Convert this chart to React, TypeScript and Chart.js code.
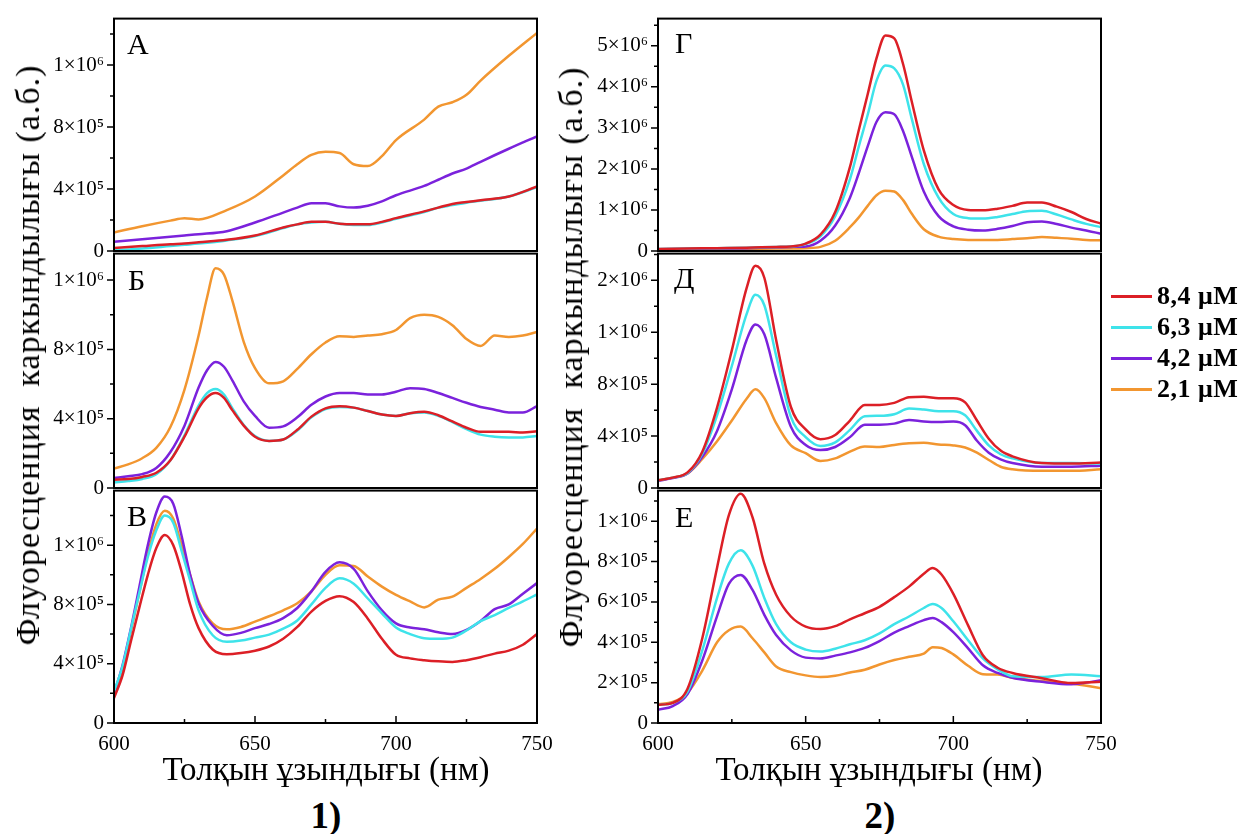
import React, { useEffect, useRef } from 'react';
import { Chart, registerables } from 'chart.js';

Chart.register(...registerables);

const FONT = '"Liberation Serif", "Times New Roman", serif';

const SERIES_LABELS = ['8,4 μM', '6,3 μM', '4,2 μM', '2,1 μM'];
const SERIES_COLORS = ['#dc1f26', '#3ee3ea', '#7b22dc', '#f29630'];

const X_MAJOR = [600, 650, 700, 750];
const X_MINOR = [625, 675, 725];
const X_TICK_LABELS = ['600', '650', '700', '750'];

// ---------- Panel А ----------
const WL_A = [600, 610, 620, 625, 630, 640, 650, 660, 665, 670, 675, 680, 685, 690, 695, 700, 710, 715, 720, 725, 730, 740, 750];
const A_84 = [20000, 32000, 44000, 48000, 56000, 72000, 100000, 152000, 172000, 188000, 188000, 176000, 172000, 172000, 188000, 212000, 256000, 280000, 304000, 316000, 328000, 352000, 416000];
const A_63 = [4000, 16000, 32000, 40000, 48000, 68000, 96000, 148000, 172000, 184000, 188000, 176000, 168000, 168000, 184000, 208000, 252000, 280000, 296000, 312000, 324000, 352000, 412000];
const A_42 = [60000, 76000, 92000, 100000, 108000, 128000, 184000, 248000, 280000, 308000, 308000, 288000, 280000, 292000, 320000, 360000, 420000, 460000, 500000, 532000, 576000, 660000, 740000];
const A_21 = [120000, 160000, 196000, 212000, 204000, 264000, 352000, 488000, 560000, 620000, 640000, 632000, 560000, 548000, 612000, 716000, 848000, 932000, 960000, 1008000, 1100000, 1260000, 1408000];

// ---------- Panel Б ----------
const WL_B = [600, 605, 610, 615, 620, 625, 630, 633, 636, 639, 642, 646, 650, 655, 660, 665, 670, 675, 680, 685, 690, 695, 700, 705, 710, 715, 720, 725, 730, 735, 740, 745, 750];
const B_84 = [48000, 52000, 64000, 88000, 160000, 296000, 460000, 524000, 548000, 520000, 448000, 360000, 296000, 272000, 280000, 336000, 412000, 460000, 472000, 464000, 444000, 424000, 416000, 432000, 440000, 420000, 384000, 348000, 324000, 324000, 324000, 320000, 328000];
const B_63 = [32000, 40000, 52000, 80000, 160000, 304000, 476000, 548000, 572000, 540000, 460000, 364000, 300000, 272000, 280000, 332000, 408000, 456000, 468000, 464000, 444000, 424000, 416000, 432000, 436000, 416000, 380000, 340000, 308000, 296000, 292000, 292000, 300000];
const B_42 = [58000, 68000, 80000, 116000, 208000, 360000, 580000, 680000, 728000, 700000, 620000, 500000, 416000, 348000, 356000, 408000, 480000, 528000, 548000, 548000, 540000, 540000, 556000, 576000, 572000, 548000, 520000, 492000, 468000, 452000, 436000, 436000, 472000];
const B_21 = [112000, 136000, 172000, 232000, 352000, 568000, 880000, 1100000, 1268000, 1232000, 1080000, 844000, 692000, 604000, 616000, 688000, 772000, 840000, 876000, 872000, 880000, 888000, 912000, 980000, 1000000, 988000, 940000, 860000, 820000, 880000, 872000, 880000, 900000];

// ---------- Panel В ----------
const WL_C = [600, 603, 606, 609, 612, 615, 618, 621, 624, 627, 630, 635, 640, 645, 650, 655, 660, 665, 670, 675, 680, 685, 690, 695, 700, 705, 710, 715, 720, 725, 730, 735, 740, 745, 750];
const C_84 = [168000, 320000, 552000, 780000, 1000000, 1180000, 1268000, 1200000, 1020000, 800000, 640000, 496000, 464000, 472000, 488000, 516000, 568000, 648000, 752000, 824000, 856000, 816000, 704000, 568000, 460000, 436000, 424000, 416000, 412000, 424000, 444000, 468000, 488000, 528000, 600000];
const C_63 = [212000, 380000, 632000, 880000, 1120000, 1300000, 1400000, 1352000, 1160000, 960000, 760000, 592000, 548000, 556000, 576000, 596000, 636000, 692000, 800000, 912000, 976000, 940000, 840000, 740000, 644000, 600000, 572000, 568000, 576000, 624000, 688000, 728000, 776000, 820000, 868000];
const C_42 = [200000, 388000, 640000, 920000, 1200000, 1420000, 1528000, 1480000, 1260000, 1000000, 808000, 656000, 592000, 608000, 640000, 668000, 708000, 776000, 888000, 1020000, 1084000, 1040000, 888000, 760000, 672000, 644000, 632000, 612000, 600000, 628000, 688000, 768000, 800000, 872000, 944000];
const C_21 = [188000, 360000, 620000, 880000, 1140000, 1340000, 1432000, 1380000, 1200000, 1000000, 820000, 672000, 632000, 648000, 684000, 720000, 760000, 808000, 888000, 1000000, 1064000, 1060000, 988000, 920000, 864000, 820000, 780000, 832000, 852000, 912000, 972000, 1040000, 1120000, 1208000, 1312000];

// ---------- Panel Г ----------
const WL_D = [600, 610, 620, 630, 640, 645, 650, 655, 660, 665, 668, 671, 674, 677, 680, 683, 686, 690, 695, 700, 705, 710, 715, 720, 725, 730, 735, 740, 745, 750];
const D_84 = [50000, 60000, 70000, 80000, 100000, 110000, 180000, 400000, 950000, 2050000, 2950000, 3820000, 4700000, 5250000, 5180000, 4550000, 3620000, 2450000, 1500000, 1120000, 1000000, 990000, 1030000, 1100000, 1180000, 1180000, 1080000, 950000, 780000, 670000];
const D_63 = [50000, 60000, 70000, 80000, 100000, 110000, 170000, 360000, 850000, 1750000, 2550000, 3320000, 4150000, 4520000, 4450000, 4050000, 3200000, 2120000, 1300000, 900000, 800000, 790000, 830000, 900000, 970000, 980000, 890000, 770000, 660000, 580000];
const D_42 = [40000, 50000, 60000, 70000, 90000, 100000, 110000, 250000, 620000, 1300000, 1900000, 2550000, 3150000, 3380000, 3330000, 2920000, 2280000, 1450000, 850000, 600000, 520000, 500000, 540000, 610000, 700000, 720000, 660000, 570000, 500000, 420000];
const D_21 = [40000, 40000, 50000, 50000, 60000, 60000, 70000, 100000, 250000, 580000, 820000, 1100000, 1360000, 1470000, 1450000, 1240000, 900000, 530000, 350000, 290000, 270000, 270000, 270000, 290000, 310000, 340000, 320000, 300000, 270000, 260000];

// ---------- Panel Д ----------
const WL_E = [600, 605, 610, 615, 620, 625, 630, 633, 636, 640, 645, 650, 655, 660, 665, 670, 675, 680, 685, 690, 695, 700, 704, 708, 712, 716, 720, 730, 740, 750];
const E_84 = [60000, 80000, 120000, 280000, 620000, 1060000, 1540000, 1712000, 1620000, 1140000, 624000, 452000, 376000, 408000, 520000, 640000, 640000, 656000, 700000, 704000, 692000, 692000, 660000, 520000, 380000, 288000, 244000, 192000, 188000, 196000];
const E_63 = [60000, 80000, 116000, 264000, 560000, 940000, 1340000, 1488000, 1408000, 1020000, 548000, 392000, 324000, 352000, 448000, 552000, 556000, 568000, 612000, 604000, 592000, 592000, 560000, 440000, 328000, 260000, 228000, 192000, 192000, 188000];
const E_42 = [56000, 76000, 112000, 240000, 440000, 760000, 1140000, 1260000, 1184000, 848000, 472000, 332000, 292000, 316000, 392000, 488000, 488000, 496000, 524000, 512000, 508000, 512000, 484000, 364000, 272000, 220000, 192000, 164000, 164000, 172000];
const E_21 = [60000, 80000, 112000, 224000, 360000, 520000, 688000, 760000, 692000, 500000, 328000, 268000, 208000, 228000, 280000, 320000, 316000, 332000, 344000, 348000, 336000, 328000, 312000, 272000, 216000, 164000, 144000, 132000, 132000, 144000];

// ---------- Panel Е ----------
const WL_F = [600, 605, 610, 615, 620, 624, 628, 632, 636, 640, 645, 650, 655, 660, 665, 670, 675, 680, 685, 690, 693, 696, 700, 705, 710, 715, 720, 730, 740, 750];
const F_84 = [90000, 100000, 170000, 420000, 770000, 1030000, 1136000, 1020000, 790000, 636000, 528000, 478000, 466000, 480000, 514000, 544000, 576000, 624000, 676000, 740000, 768000, 736000, 640000, 484000, 336000, 274000, 248000, 222000, 198000, 204000];
const F_63 = [90000, 100000, 156000, 360000, 620000, 790000, 856000, 780000, 620000, 490000, 400000, 364000, 354000, 368000, 390000, 410000, 444000, 490000, 528000, 570000, 590000, 570000, 504000, 410000, 320000, 266000, 232000, 228000, 240000, 232000];
const F_42 = [66000, 84000, 144000, 310000, 530000, 690000, 734000, 660000, 536000, 436000, 360000, 324000, 320000, 334000, 350000, 372000, 406000, 448000, 480000, 510000, 520000, 500000, 450000, 370000, 286000, 248000, 224000, 204000, 192000, 212000];
const F_21 = [94000, 104000, 150000, 260000, 400000, 460000, 478000, 420000, 350000, 280000, 252000, 236000, 228000, 234000, 250000, 264000, 290000, 312000, 328000, 344000, 376000, 372000, 340000, 284000, 242000, 240000, 224000, 208000, 196000, 172000];

// ---------- Y tick labels ----------
const Y_TICKS_4 = [0, 400000, 800000, 1200000];
const Y_LABELS_4 = ['0', '4×10⁵', '8×10⁵', '1×10⁶'];
const Y_TICKS_G = [0, 1000000, 2000000, 3000000, 4000000, 5000000];
const Y_LABELS_G = ['0', '1×10⁶', '2×10⁶', '3×10⁶', '4×10⁶', '5×10⁶'];
const Y_TICKS_D = [0, 400000, 800000, 1200000, 1600000];
const Y_LABELS_D = ['0', '4×10⁵', '8×10⁵', '1×10⁶', '2×10⁶'];
const Y_TICKS_E = [0, 200000, 400000, 600000, 800000, 1000000];
const Y_LABELS_E = ['0', '2×10⁵', '4×10⁵', '6×10⁵', '8×10⁵', '1×10⁶'];

const framePlugin = {
  id: 'frame',
  afterDatasetsDraw(chart: any, _args: any, opts: any) {
    const { ctx, chartArea: a } = chart;
    const ys = chart.scales.y;
    const xs = chart.scales.x;
    ctx.save();
    ctx.strokeStyle = '#000';
    ctx.lineWidth = 1.5;
    ctx.beginPath();
    const majors: number[] = opts.yTicks;
    for (let v = opts.yMinorStep; v <= ys.max + 1; v += opts.yMinorStep) {
      if (majors.some((m) => Math.abs(m - v) < 1)) continue;
      const py = ys.getPixelForValue(v);
      ctx.moveTo(a.left - 4, py);
      ctx.lineTo(a.left, py);
    }
    majors.forEach((v) => {
      const py = ys.getPixelForValue(v);
      ctx.moveTo(a.left - 7, py);
      ctx.lineTo(a.left, py);
    });
    if (opts.showX) {
      X_MAJOR.forEach((v) => {
        const px = xs.getPixelForValue(v);
        ctx.moveTo(px, a.bottom);
        ctx.lineTo(px, a.bottom - 7);
      });
      X_MINOR.forEach((v) => {
        const px = xs.getPixelForValue(v);
        ctx.moveTo(px, a.bottom);
        ctx.lineTo(px, a.bottom - 4);
      });
    }
    ctx.stroke();
    ctx.lineWidth = 2;
    ctx.strokeRect(a.left, a.top, a.right - a.left, a.bottom - a.top);
    ctx.restore();
  },
};

type PanelProps = {
  rect: [number, number, number, number];
  wl: number[];
  series: number[][];
  yMax: number;
  yTicks: number[];
  yLabels: string[];
  yMinorStep: number;
  showX: boolean;
};

const PADL = 110;
const PADT = 20;
const PADR = 35;
const PADB = 45;

function Panel(p: PanelProps) {
  const ref = useRef<HTMLCanvasElement>(null);
  const [l, t, r, b] = p.rect;
  const XH = p.showX ? 38 : 0;
  const cw = r - l + PADL + PADR;
  const ch = b - t + PADT + PADB;
  useEffect(() => {
    const chart = new Chart(ref.current as HTMLCanvasElement, {
      type: 'line',
      data: {
        datasets: p.series.map((s, i) => ({
          label: SERIES_LABELS[i],
          data: p.wl.map((x, j) => ({ x, y: s[j] })),
          borderColor: SERIES_COLORS[i],
          backgroundColor: SERIES_COLORS[i],
          borderWidth: 2.5,
          pointRadius: 0,
          cubicInterpolationMode: 'monotone',
          fill: false,
        })),
      },
      options: {
        responsive: false,
        animation: false,
        devicePixelRatio: 1,
        events: [],
        layout: { padding: { left: 0, top: PADT, right: PADR, bottom: PADB - XH } },
        plugins: {
          legend: { display: false },
          tooltip: { enabled: false },
          frame: { yTicks: p.yTicks, yMinorStep: p.yMinorStep, showX: p.showX },
        } as any,
        scales: {
          x: {
            type: 'linear',
            min: 600,
            max: 750,
            grid: { display: false, drawTicks: false },
            border: { display: false },
            afterBuildTicks: (s: any) => {
              s.ticks = X_MAJOR.map((v) => ({ value: v }));
            },
            afterFit: (s: any) => {
              s.height = XH;
            },
            ticks: {
              display: p.showX,
              padding: 9,
              color: '#000',
              maxRotation: 0,
              autoSkip: false,
              font: { family: FONT, size: 21 },
              callback: (_v: any, i: number) => X_TICK_LABELS[i],
            },
          },
          y: {
            type: 'linear',
            min: 0,
            max: p.yMax,
            grid: { display: false, drawTicks: false },
            border: { display: false },
            afterBuildTicks: (s: any) => {
              s.ticks = p.yTicks.map((v) => ({ value: v }));
            },
            afterFit: (s: any) => {
              s.width = PADL;
            },
            ticks: {
              padding: 10,
              color: '#000',
              autoSkip: false,
              font: { family: FONT, size: 21 },
              callback: (_v: any, i: number) => p.yLabels[i],
            },
          },
        },
      },
      plugins: [framePlugin],
    } as any);
    return () => chart.destroy();
  }, []);
  return (
    <canvas
      ref={ref}
      width={cw}
      height={ch}
      style={{ position: 'absolute', left: l - PADL, top: t - PADT, width: cw, height: ch }}
    />
  );
}

function Txt(props: { x: number; y: number; size: number; bold?: boolean; center?: boolean; children: React.ReactNode }) {
  const { x, y, size, bold, center, children } = props;
  return (
    <div
      style={{
        position: 'absolute',
        left: x,
        top: y - 0.8375 * size,
        fontFamily: FONT,
        fontSize: size,
        lineHeight: `${size}px`,
        fontWeight: bold ? 'bold' : 'normal',
        whiteSpace: 'nowrap',
        transform: center ? 'translateX(-50%)' : undefined,
        color: '#000',
      }}
    >
      {children}
    </div>
  );
}

function VTitle(props: { cx: number; cy: number; size: number; spacing: number; children: React.ReactNode }) {
  const { cx, cy, size, spacing, children } = props;
  return (
    <div
      style={{
        position: 'absolute',
        left: cx,
        top: cy,
        fontFamily: FONT,
        fontSize: size,
        letterSpacing: spacing,
        lineHeight: `${size}px`,
        whiteSpace: 'pre',
        transform: 'translate(-50%, -50%) rotate(-90deg)',
        color: '#000',
      }}
    >
      {children}
    </div>
  );
}

const LEFT_X: [number, number] = [114, 537];
const RIGHT_X: [number, number] = [658, 1101];
const ROWS: [number, number][] = [
  [16, 251],
  [251, 488],
  [488, 723],
];

export default function App() {
  const Y_TITLE = 'Флуоресценция  каркындылығы (а.б.)';
  const X_TITLE = 'Толқын ұзындығы (нм)';
  return (
    <div style={{ position: 'absolute', left: 0, top: 0, width: 1249, height: 834, background: '#fff', overflow: 'hidden' }}>
      <Panel rect={[LEFT_X[0], ROWS[0][0], LEFT_X[1], ROWS[0][1]]} wl={WL_A} series={[A_84, A_63, A_42, A_21]} yMax={1500000} yTicks={Y_TICKS_4} yLabels={Y_LABELS_4} yMinorStep={200000} showX={false} />
      <Panel rect={[LEFT_X[0], ROWS[1][0], LEFT_X[1], ROWS[1][1]]} wl={WL_B} series={[B_84, B_63, B_42, B_21]} yMax={1353000} yTicks={Y_TICKS_4} yLabels={Y_LABELS_4} yMinorStep={200000} showX={false} />
      <Panel rect={[LEFT_X[0], ROWS[2][0], LEFT_X[1], ROWS[2][1]]} wl={WL_C} series={[C_84, C_63, C_42, C_21]} yMax={1568000} yTicks={Y_TICKS_4} yLabels={Y_LABELS_4} yMinorStep={200000} showX={true} />
      <Panel rect={[RIGHT_X[0], ROWS[0][0], RIGHT_X[1], ROWS[0][1]]} wl={WL_D} series={[D_84, D_63, D_42, D_21]} yMax={5663000} yTicks={Y_TICKS_G} yLabels={Y_LABELS_G} yMinorStep={500000} showX={false} />
      <Panel rect={[RIGHT_X[0], ROWS[1][0], RIGHT_X[1], ROWS[1][1]]} wl={WL_E} series={[E_84, E_63, E_42, E_21]} yMax={1806000} yTicks={Y_TICKS_D} yLabels={Y_LABELS_D} yMinorStep={200000} showX={false} />
      <Panel rect={[RIGHT_X[0], ROWS[2][0], RIGHT_X[1], ROWS[2][1]]} wl={WL_F} series={[F_84, F_63, F_42, F_21]} yMax={1152000} yTicks={Y_TICKS_E} yLabels={Y_LABELS_E} yMinorStep={100000} showX={true} />

      <Txt x={127} y={54} size={30}>А</Txt>
      <Txt x={128} y={290} size={30}>Б</Txt>
      <Txt x={127} y={526} size={30}>В</Txt>
      <Txt x={675} y={53} size={30}>Г</Txt>
      <Txt x={674} y={288} size={30}>Д</Txt>
      <Txt x={675} y={527} size={30}>Е</Txt>

      <VTitle cx={28} cy={355} size={34} spacing={1}>{Y_TITLE}</VTitle>
      <VTitle cx={571} cy={357} size={34} spacing={1}>{Y_TITLE}</VTitle>

      <Txt x={326} y={781} size={33} center>{X_TITLE}</Txt>
      <Txt x={879} y={781} size={33} center>{X_TITLE}</Txt>
      <Txt x={326} y={828} size={37} bold center>1)</Txt>
      <Txt x={880} y={828} size={37} bold center>2)</Txt>

      {SERIES_LABELS.map((lab, i) => (
        <div key={lab} style={{ position: 'absolute', left: 1111, top: 296 + i * 31 - 15, height: 30, display: 'flex', alignItems: 'center' }}>
          <div style={{ width: 41, height: 3, background: SERIES_COLORS[i] }} />
          <div style={{ marginLeft: 5, fontFamily: FONT, fontWeight: 'bold', fontSize: 26, letterSpacing: 0.5, lineHeight: '30px', whiteSpace: 'nowrap', color: '#000' }}>{lab}</div>
        </div>
      ))}
    </div>
  );
}
